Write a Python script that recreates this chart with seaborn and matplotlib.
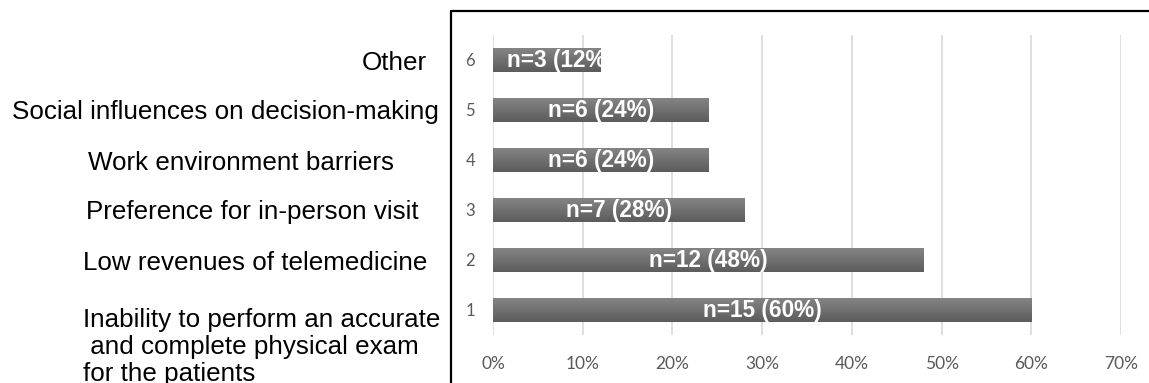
import matplotlib
matplotlib.use("Agg")
import matplotlib.pyplot as plt
from matplotlib.lines import Line2D
from matplotlib.ticker import PercentFormatter
from matplotlib import font_manager
import matplotlib.transforms as mtransforms
import numpy as np
import pandas as pd
import seaborn as sns

# Barriers to telemedicine adoption (n = respondents, share of 25)
rank = ["6", "5", "4", "3", "2", "1"]
barriers = [
    "Other",
    "Social influences on decision-making",
    "Work environment barriers",
    "Preference for in-person visit",
    "Low revenues of telemedicine",
    "Inability to perform an accurate\n and complete physical exam\nfor the patients",
]
counts = [3, 6, 6, 7, 12, 15]
shares = [0.12, 0.24, 0.24, 0.28, 0.48, 0.60]
xticks = [0.0, 0.1, 0.2, 0.3, 0.4, 0.5, 0.6, 0.7]

# left edge of each category caption, in figure pixels
caption_left = [362, 12, 88, 86, 83, 83]

W, H, DPI = 1149, 383, 100
sns.set_theme(style="white")
plt.rcParams["font.family"] = ["Liberation Sans", "DejaVu Sans"]

bar_font = font_manager.FontProperties(family="Liberation Sans", weight="bold", size=16.3)

fig = plt.figure(figsize=(W / DPI, H / DPI), dpi=DPI)
ax = fig.add_axes([493 / W, 1 - 335 / H, (1121 - 493) / W, 300 / H])

df = pd.DataFrame({"rank": rank, "share": shares})
sns.barplot(data=df, x="share", y="rank", order=rank, orient="h",
            width=0.5, color="#6f6f6f", saturation=1, ax=ax, zorder=2)

ax.set_xlim(0, 0.7)
ax.set_ylim(5.5, -0.5)
ax.set_xticks(xticks)
ax.xaxis.set_major_formatter(PercentFormatter(1.0, decimals=0))
ax.set_xlabel("")
ax.set_ylabel("")
for s in ax.spines.values():
    s.set_visible(False)
ax.grid(axis="x", color="#d9d9d9", linewidth=1.2, zorder=0)
ax.set_axisbelow(True)
ax.tick_params(axis="x", length=0, pad=15, labelsize=12.5, labelcolor="#595959")
ax.tick_params(axis="y", length=0, pad=13, labelsize=12, labelcolor="#595959")
for lbl in ax.get_xticklabels():
    lbl.set_fontfamily(["Lato", "DejaVu Sans"])
for lbl in ax.get_yticklabels():
    lbl.set_fontfamily(["Lato", "DejaVu Sans"])

# vertical gradient fill on each bar, value label inside (clipped to the bar)
grad = np.linspace(0, 1, 64).reshape(-1, 1)
cmap = matplotlib.colors.LinearSegmentedColormap.from_list("bar", ["#868686", "#5c5c5c"])
pad = 0.0155
fig.canvas.draw()
renderer = fig.canvas.get_renderer()
for patch, n, v in zip(ax.patches, counts, shares):
    x0, y0 = patch.get_x(), patch.get_y()
    w, h = patch.get_width(), patch.get_height()
    im = ax.imshow(grad, cmap=cmap, aspect="auto", extent=(x0, x0 + w, y0 + h, y0),
                   zorder=2.5, interpolation="bicubic")
    im.set_clip_path(patch)
    patch.set_facecolor("none")
    patch.set_edgecolor("none")
    yc = y0 + h / 2
    t = ax.text(v / 2, yc, f"n={n} ({v:.0%})", ha="center", va="center",
                color="white", fontproperties=bar_font, zorder=3)
    bb = t.get_window_extent(renderer).transformed(ax.transData.inverted())
    if bb.width + 2 * pad > w:
        t.set_x(pad)
        t.set_ha("left")
    t.set_clip_path(patch)

ax.set_xlim(0, 0.7)
ax.set_ylim(5.5, -0.5)

# category captions to the left of the framed panel
trans = mtransforms.blended_transform_factory(fig.transFigure, ax.transData)
for i, (txt, xl) in enumerate(zip(barriers, caption_left)):
    if "\n" in txt:
        ax.text(xl / W, i - 0.04, txt, transform=trans, ha="left", va="top",
                fontsize=18.7, color="black", linespacing=1.15, clip_on=False)
    else:
        ax.text(xl / W, i + 0.05, txt, transform=trans, ha="left", va="center",
                fontsize=18.7, color="black", clip_on=False)

# frame around the chart panel
fig.add_artist(Line2D([451 / W, 451 / W], [1 - 11 / H, -0.05], transform=fig.transFigure,
                      color="black", linewidth=1.6))
fig.add_artist(Line2D([451 / W, 1.05], [1 - 11 / H, 1 - 11 / H], transform=fig.transFigure,
                      color="black", linewidth=1.6))

fig.savefig("out.png", dpi=DPI)
